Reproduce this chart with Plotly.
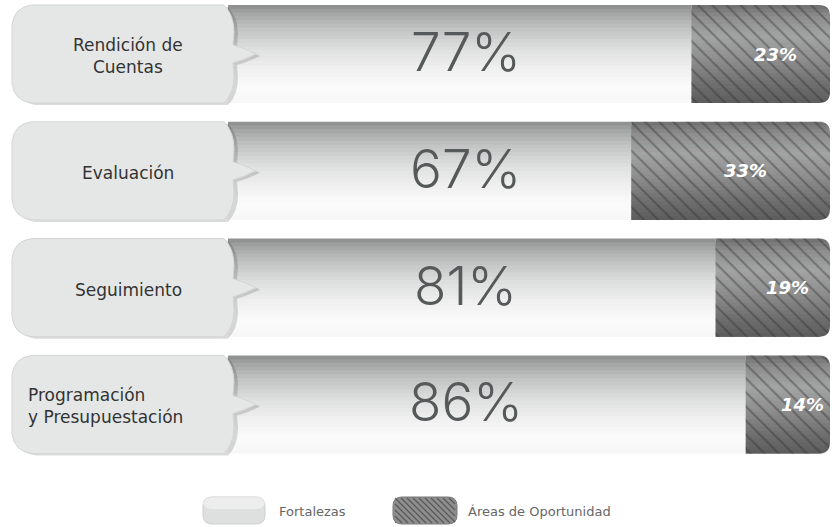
import plotly.graph_objects as go

# ---------------- data ----------------
categories = ["Rendición de Cuentas", "Evaluación", "Seguimiento", "Programación y Presupuestación"]
category_labels = ["Rendición de<br>Cuentas", "Evaluación", "Seguimiento", "Programación<br>y Presupuestación"]
fortalezas = [77, 67, 81, 86]
areas = [23, 33, 19, 14]
series_names = ["Fortalezas", "Áreas de Oportunidad"]

# ---------------- geometry / style ----------------
W, H = 832, 527
X0PX, PXU = 228, 6.02           # pixel of 0 % and pixels per %
ROW0, ROWSTEP = 54, 116.83      # pixel centre of first row, spacing
THICK = 0.84
NSTRIP = 26

xrange_ = [-X0PX / PXU, (W - X0PX) / PXU]
ytop = -ROW0 / ROWSTEP
yrange_ = [ytop + H / ROWSTEP, ytop]


def px(x):
    return x / W


def py(y):
    return 1 - y / H


def hex2rgb(h):
    h = h.lstrip('#')
    return tuple(int(h[i:i + 2], 16) for i in (0, 2, 4))


def grad(stops, t):
    for (t0, c0), (t1, c1) in zip(stops, stops[1:]):
        if t0 <= t <= t1:
            f = (t - t0) / (t1 - t0) if t1 > t0 else 0
            a, b = hex2rgb(c0), hex2rgb(c1)
            return 'rgb(%d,%d,%d)' % tuple(round(a[i] + (b[i] - a[i]) * f) for i in range(3))
    return stops[-1][1]


fort_stops = [(0, '#8a8b8b'), (0.08, '#a3a4a4'), (0.25, '#c3c4c4'), (0.45, '#dedfdf'),
              (0.65, '#f0f0f0'), (0.85, '#fbfbfb'), (1, '#f6f6f6')]
dark_stops = [(0, '#6e6e6e'), (0.12, '#8d8d8d'), (0.32, '#a3a4a4'), (0.55, '#8f8f8f'),
              (0.8, '#707070'), (1, '#5c5c5c')]

fig = go.Figure()

sw = THICK / NSTRIP
for k in range(NSTRIP):
    t = (k + 0.5) / NSTRIP
    off = -THICK / 2 + k * sw
    wk = min(sw * 2.2, THICK / 2 - off)
    fig.add_trace(go.Bar(
        y=categories, x=fortalezas, base=[0] * len(fortalezas), orientation='h',
        offset=off, width=wk, marker=dict(color=grad(fort_stops, t), line=dict(width=0)),
        name=series_names[0], showlegend=False, hoverinfo='skip'))
    fig.add_trace(go.Bar(
        y=categories, x=areas, base=fortalezas, orientation='h',
        offset=off, width=wk, marker=dict(color=grad(dark_stops, t), line=dict(width=0)),
        name=series_names[1], showlegend=False, hoverinfo='skip'))

# stripes over the "Áreas de Oportunidad" part
fig.add_trace(go.Bar(
    y=categories, x=areas, base=fortalezas, orientation='h',
    offset=-THICK / 2, width=THICK,
    marker=dict(color='rgba(0,0,0,0)', line=dict(width=0),
                pattern=dict(shape='\\', size=10, solidity=0.2,
                             fgcolor='rgba(45,45,45,0.8)', bgcolor='rgba(0,0,0,0)')),
    name=series_names[1], showlegend=False, hoverinfo='skip'))

shapes = []
annotations = []

# label tabs
L, R, P = 12, 230, 256
half = THICK / 2 * ROWSTEP
for i, lab in enumerate(category_labels):
    C = ROW0 + i * ROWSTEP
    T, B = C - half, C + half
    r = 20

    # rounded right end of each bar (white corner masks)
    rr = 11
    shapes.append(dict(type='path', xref='paper', yref='paper', layer='above',
                       path='M %.5f,%.5f L %.5f,%.5f L %.5f,%.5f Q %.5f,%.5f %.5f,%.5f Z' % (
                           px(W), py(T - 1), px(W), py(T + rr), px(830), py(T + rr),
                           px(830), py(T), px(830 - rr), py(T)),
                       fillcolor='white', line=dict(width=0)))
    shapes.append(dict(type='path', xref='paper', yref='paper', layer='above',
                       path='M %.5f,%.5f L %.5f,%.5f L %.5f,%.5f Q %.5f,%.5f %.5f,%.5f Z' % (
                           px(W), py(B + 1), px(W), py(B - rr), px(830), py(B - rr),
                           px(830), py(B), px(830 - rr), py(B)),
                       fillcolor='white', line=dict(width=0)))

    def path(dx=0, dy=0):
        pts = [
            ('M', [(L + r, T)]),
            ('L', [(R - 6, T)]),
            ('Q', [(R + 4, T + 10), (R + 4, C - 22)]),
            ('L', [(R + 3, C - 9)]),
            ('Q', [(R + 14, C - 6), (P, C)]),
            ('Q', [(R + 14, C + 6), (R + 3, C + 9)]),
            ('L', [(R + 4, C + 22)]),
            ('Q', [(R + 4, B - 10), (R - 6, B)]),
            ('L', [(L + r, B)]),
            ('Q', [(L + 2, B - 2), (L, B - r)]),
            ('L', [(L, T + r)]),
            ('Q', [(L + 2, T + 2), (L + r, T)]),
        ]
        s = ''
        for cmd, ps in pts:
            s += cmd + ' ' + ' '.join('%.5f,%.5f' % (px(x + dx), py(y + dy)) for x, y in ps) + ' '
        return s + 'Z'

    shapes.append(dict(type='path', path=path(4, 2), xref='paper', yref='paper',
                       fillcolor='rgba(0,0,0,0.14)', line=dict(width=0), layer='above'))
    shapes.append(dict(type='path', path=path(), xref='paper', yref='paper',
                       fillcolor='#e5e7e7', line=dict(color='#d4d6d6', width=1), layer='above'))

    if i == 3:
        annotations.append(dict(x=px(26), y=py(C + 2), xref='paper', yref='paper', text=lab,
                                xanchor='left', yanchor='middle', align='left', showarrow=False,
                                font=dict(family='DejaVu Sans', size=17, color='#333333')))
    else:
        annotations.append(dict(x=px(128), y=py(C + 2), xref='paper', yref='paper', text=lab,
                                xanchor='center', yanchor='middle', align='center', showarrow=False,
                                font=dict(family='DejaVu Sans', size=17, color='#333333')))

# value labels
for i, c in enumerate(categories):
    annotations.append(dict(x=39.5, y=c, xref='x', yref='y', text=f"{fortalezas[i]}%",
                            showarrow=False, xanchor='center', yanchor='middle', yshift=2,
                            font=dict(family='Inter', size=53, color='#55595a', weight=300)))
    annotations.append(dict(x=fortalezas[i] + areas[i] / 2 + 2.5, y=c, xref='x', yref='y',
                            text=f"{areas[i]}%", showarrow=False, xanchor='center', yanchor='middle',
                            font=dict(family='DejaVu Sans', size=18, color='white', weight='bold',
                                      style='italic')))


# custom legend
def rrect(x0, y0, x1, y1, r):
    s = 'M %.5f,%.5f ' % (px(x0 + r), py(y0))
    s += 'L %.5f,%.5f ' % (px(x1 - r), py(y0))
    s += 'Q %.5f,%.5f %.5f,%.5f ' % (px(x1), py(y0), px(x1), py(y0 + r))
    s += 'L %.5f,%.5f ' % (px(x1), py(y1 - r))
    s += 'Q %.5f,%.5f %.5f,%.5f ' % (px(x1), py(y1), px(x1 - r), py(y1))
    s += 'L %.5f,%.5f ' % (px(x0 + r), py(y1))
    s += 'Q %.5f,%.5f %.5f,%.5f ' % (px(x0), py(y1), px(x0), py(y1 - r))
    s += 'L %.5f,%.5f ' % (px(x0), py(y0 + r))
    s += 'Q %.5f,%.5f %.5f,%.5f Z' % (px(x0), py(y0), px(x0 + r), py(y0))
    return s


ly0, ly1 = 497, 524
shapes.append(dict(type='path', path=rrect(203, ly0, 265, ly1, 9), xref='paper', yref='paper',
                   fillcolor='#dedfdf', line=dict(color='#d0d1d1', width=1), layer='above'))
shapes.append(dict(type='path', path=rrect(203, ly0, 265, ly0 + 12, 9), xref='paper', yref='paper',
                   fillcolor='rgba(255,255,255,0.45)', line=dict(width=0), layer='above'))
shapes.append(dict(type='path', path=rrect(393, ly0, 457, ly1, 9), xref='paper', yref='paper',
                   fillcolor='#8e8e8e', line=dict(color='#7a7a7a', width=1), layer='above'))
# stripes inside the second swatch
sx0, sx1 = 395, 455
for k in range(-4, 14):
    xa, ya = sx0 + k * 6, ly0 + 1
    xb, yb = xa + (ly1 - ly0 - 2), ly1 - 1
    if xa < sx0:
        ya += sx0 - xa
        xa = sx0
    if xb > sx1:
        yb -= xb - sx1
        xb = sx1
    if xb - xa < 1:
        continue
    shapes.append(dict(type='line', x0=px(xa), y0=py(ya), x1=px(xb), y1=py(yb),
                       xref='paper', yref='paper', line=dict(color='rgba(55,55,55,0.6)', width=1.3),
                       layer='above'))

annotations.append(dict(x=px(277), y=py(511), xref='paper', yref='paper', text=series_names[0],
                        xanchor='left', yanchor='middle', showarrow=False,
                        font=dict(family='DejaVu Sans', size=13, color='#666666')))
annotations.append(dict(x=px(466), y=py(511), xref='paper', yref='paper', text=series_names[1],
                        xanchor='left', yanchor='middle', showarrow=False,
                        font=dict(family='DejaVu Sans', size=13, color='#666666')))

fig.update_layout(
    width=W, height=H, margin=dict(l=0, r=0, t=0, b=0),
    paper_bgcolor='white', plot_bgcolor='white',
    barmode='overlay', showlegend=False,
    xaxis=dict(range=xrange_, visible=False, fixedrange=True),
    yaxis=dict(range=yrange_, visible=False, fixedrange=True, type='category',
               categoryorder='array', categoryarray=categories),
    shapes=shapes, annotations=annotations,
)

fig.write_html("out.html")
